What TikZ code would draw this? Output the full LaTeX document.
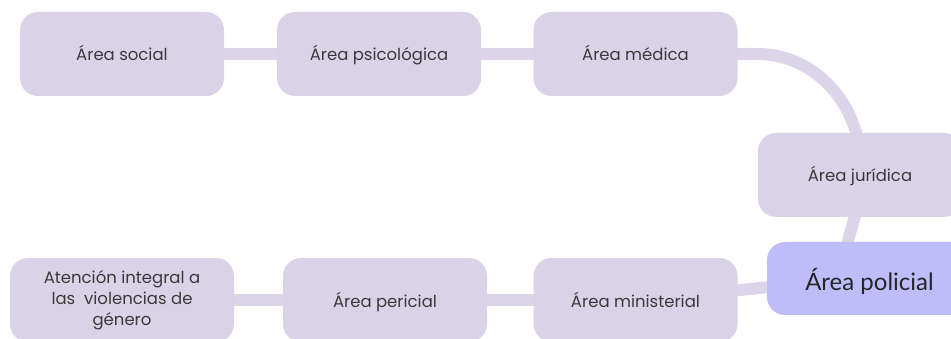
\documentclass[tikz,border=0pt]{standalone}
\usepackage{fontspec}
\setmainfont{Poppins}
\newfontfamily\polfont{Lato}
\usetikzlibrary{backgrounds}
\definecolor{boxc}{HTML}{DAD3E8}
\definecolor{linec}{HTML}{DCD5EA}
\definecolor{polc}{HTML}{BEBCF9}
\definecolor{textc}{HTML}{3A3A3A}
\tikzset{
  box/.style={rounded corners=18pt, fill=boxc, minimum width=204pt, minimum height=84pt,
    text=textc, font=\fontsize{16.5}{21}\selectfont, align=center, inner sep=0pt},
  oneline/.style={text height=16pt, text depth=2pt},
  conn/.style={draw=linec, line width=12pt}
}
\begin{document}
\begin{tikzpicture}[x=1pt,y=-1pt]
\useasboundingbox (0,0) rectangle (951,339);
\clip (0,0) rectangle (951,339);
\node[box, oneline] (social) at (122,54) {Área social};
\node[box, oneline] (psico) at (379,54) {Área psicológica};
\node[box, oneline] (medica) at (635.5,54) {Área médica};
\node[box, oneline] (juridica) at (860,175) {Área jurídica};
\node[box, fill=polc, minimum width=205pt, minimum height=73pt, text=black!85,
  text height=24pt, text depth=0pt,
  font=\polfont\fontsize{24}{28}\selectfont] (policial) at (869.5,278.5) {Área policial};
\node[box, oneline] (ministerial) at (635.5,300) {Área ministerial};
\node[box, oneline] (pericial) at (385,300) {Área pericial};
\node[box, minimum width=224pt] (atencion) at (122,300) {Atención integral a\\las\ \ violencias de\\género};
\coordinate (arcstart) at ([xshift=20pt]medica.east);
\coordinate (jbot) at ([xshift=-2pt,yshift=12pt]juridica.south);
\coordinate (ptop) at ([xshift=-24pt,yshift=-8pt]policial.north);
\begin{scope}[on background layer]
\draw[conn] (social.center) -- (psico.center);
\draw[conn] (psico.center) -- (medica.center);
\draw[conn] (medica.center) -- (arcstart) arc[start angle=90, end angle=0, x radius=103pt, y radius=112pt];
\draw[conn] (jbot) -- (ptop);
\draw[conn] ([yshift=-1pt]ministerial.center) -- ([yshift=2pt]policial.center);
\draw[conn] (pericial.center) -- (ministerial.center);
\draw[conn] (atencion.center) -- (pericial.center);
\end{scope}
\end{tikzpicture}
\end{document}
